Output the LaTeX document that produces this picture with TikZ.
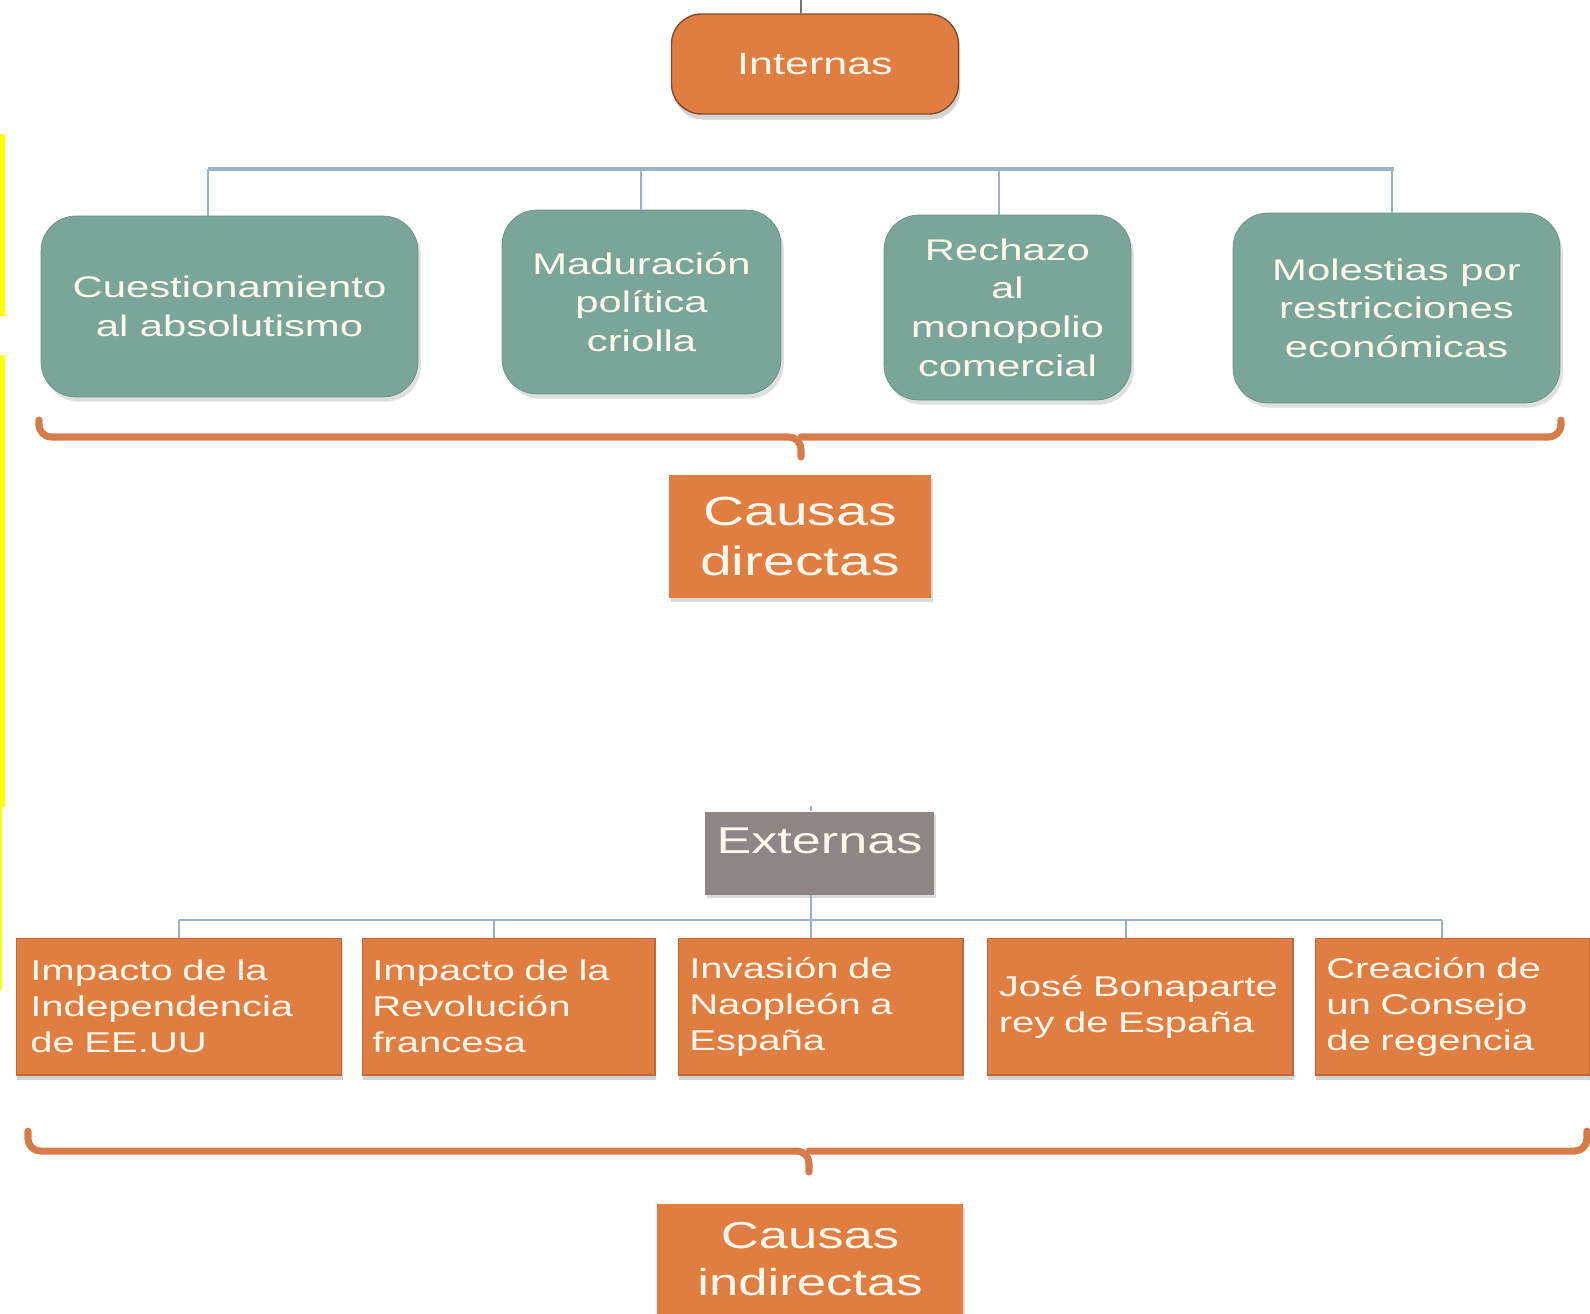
\documentclass[tikz,border=0pt]{standalone}
\usepackage{fontspec}
\setmainfont{Liberation Sans}[FakeStretch=1.4]
\usetikzlibrary{positioning, shadows}
\definecolor{causeorange}{RGB}{224,126,66}
\definecolor{causeedge}{RGB}{190,104,56}
\definecolor{causeteal}{RGB}{122,166,154}
\definecolor{causegray}{RGB}{142,133,133}
\definecolor{busblue}{RGB}{150,178,205}
\definecolor{bracecol}{RGB}{214,124,74}
\definecolor{cream}{RGB}{255,246,236}
\definecolor{markyellow}{RGB}{255,255,0}

\begin{document}
\begin{tikzpicture}[x=0.02cm, y=-0.02cm, line width=0.15ex,
                every node/.style={text=cream, inner sep=0pt, align=center},
                headbox/.style={
                        rectangle,
                        rounded corners=0.6cm,
                        fill=causeorange,
                        draw=causeedge!70!black,
                        line width=0.8pt,
                        font=\fontsize{17.5}{22}\selectfont,
                        drop shadow={opacity=.35,fill=gray,shadow xshift=0.2ex, shadow yshift=-0.6ex}},
                innerbox/.style={
                        rectangle,
                        rounded corners=0.7cm,
                        fill=causeteal,
                        draw=causeteal!85!black,
                        line width=0.4pt,
                        font=\fontsize{17}{22}\selectfont,
                        drop shadow={opacity=.25,fill=gray,shadow xshift=0.3ex, shadow yshift=-0.5ex}},
                outerbox/.style={
                        rectangle,
                        fill=causeorange,
                        draw=causeedge,
                        line width=0.6pt,
                        text width=#1,
                        align=left,
                        minimum height=2.74cm,
                        font=\fontsize{16.3}{20.5}\selectfont,
                        drop shadow={opacity=.35,fill=gray,shadow xshift=0.1ex, shadow yshift=-0.5ex}},
                sumbox/.style={
                        rectangle,
                        fill=causeorange,
                        drop shadow={opacity=.3,fill=gray,shadow xshift=0.2ex, shadow yshift=-0.4ex}},
                bus/.style={draw=busblue, line width=1.2pt},
                brace/.style={draw=bracecol, line width=4pt, line cap=round, rounded corners=7pt}]

                \useasboundingbox (0,0) rectangle (1590,1313);

                % marks on the left edge
                \fill[markyellow] (0,134) rectangle (5,316);
                \fill[markyellow] (0,355) rectangle (5,807);
                \fill[markyellow] (0,807) rectangle (2,990);

                % causas internas
                \node[headbox, minimum width=5.74cm, minimum height=2cm] (Int) at (815,64) {Internas};

                \node[innerbox, minimum width=7.54cm, minimum height=3.62cm] (A1) at (229.5,306.5) {Cuestionamiento\\al absolutismo};
                \node[innerbox, minimum width=5.58cm, minimum height=3.68cm] (A2) at (641.5,302) {Maduración\\política\\criolla};
                \node[innerbox, minimum width=4.94cm, minimum height=3.70cm] (A3) at (1007.5,307.5) {Rechazo\\al\\monopolio\\comercial};
                \node[innerbox, minimum width=6.54cm, minimum height=3.80cm] (A4) at (1396.5,308) {Molestias por\\restricciones\\económicas};

                \coordinate (a1) at (208,169);
                \coordinate (a2) at (641,169);
                \coordinate (a3) at (999,169);
                \coordinate (a4) at (1392,169);

                \draw[draw=black!55, line width=1pt] (Int.north -| 801,0) -- (801,0);
                \draw[bus, line width=2pt] (a1) -- (1394,169);
                \draw[bus] (a1) -- (A1.north -| a1);
                \draw[bus] (a2) -- (A2.north -| a2);
                \draw[bus] (a3) -- (A3.north -| a3);
                \draw[bus] (a4) -- (A4.north -| a4);

                \draw[brace] (39,420) |- (801,437) -- (801,457);
                \draw[brace] (1561,420) |- (801,437);

                \node[sumbox, minimum width=5.24cm, minimum height=2.46cm,
                      font=\fontsize{23.2}{28.9}\selectfont] (CD) at (800,536.5) {Causas\\directas};

                % causas externas
                \node[sumbox, fill=causegray, minimum width=4.58cm, minimum height=1.66cm, text depth=0.48cm,
                      font=\fontsize{21.2}{26}\selectfont] (Ext) at (819.5,853) {Externas};

                \node[outerbox=5.95cm, minimum width=6.52cm] (B1) at (179,1006.5) {Impacto de la\\Independencia\\de EE.UU};
                \node[outerbox=5.45cm, minimum width=5.86cm] (B2) at (508.5,1006.5) {Impacto de la\\Revolución\\francesa};
                \node[outerbox=5.25cm, minimum width=5.70cm] (B3) at (820.5,1006.5) {Invasión de\\Naopleón a\\España};
                \node[outerbox=5.65cm, minimum width=6.12cm] (B4) at (1140,1006.5) {José Bonaparte\\rey de España};
                \node[outerbox=5.05cm, minimum width=5.50cm] (B5) at (1452.5,1006.5) {Creación de\\un Consejo\\de regencia};

                \coordinate (b1) at (179,920);
                \coordinate (b2) at (494,920);
                \coordinate (b3) at (811,920);
                \coordinate (b4) at (1126,920);
                \coordinate (b5) at (1442,920);

                \draw[bus] (Ext.north -| b3) -- (811,806);
                \draw[bus] (Ext.south -| b3) -- (b3);
                \draw[bus] (b1) -- (b5);
                \draw[bus] (b1) -- (B1.north -| b1);
                \draw[bus] (b2) -- (B2.north -| b2);
                \draw[bus] (b3) -- (B3.north -| b3);
                \draw[bus] (b4) -- (B4.north -| b4);
                \draw[bus] (b5) -- (B5.north -| b5);

                \draw[brace] (28,1131) |- (809,1151) -- (809,1172);
                \draw[brace] (1587,1131) |- (809,1151);

                \node[sumbox, minimum width=6.12cm, minimum height=2.2cm,
                      font=\fontsize{21.4}{27}\selectfont] (CI) at (810,1259) {Causas\\indirectas};
\end{tikzpicture}
\end{document}
